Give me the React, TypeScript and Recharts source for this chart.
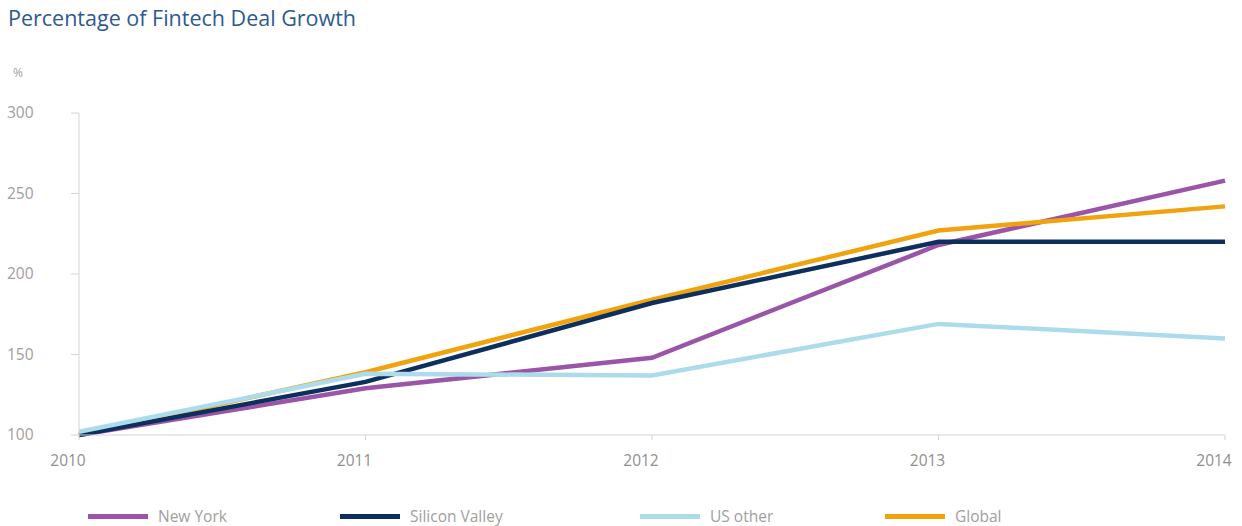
import React from 'react';
import { LineChart, Line, XAxis, YAxis } from 'recharts';

const years = ['2010', '2011', '2012', '2013', '2014'];
const newYork = [100, 129, 148, 218, 258];
const siliconValley = [100, 133, 182, 220, 220];
const usOther = [102, 138, 137, 169, 160];
const global = [100, 139, 184, 227, 242];
const yTicks = [100, 150, 200, 250, 300];

const data = years.map((year, i) => ({
  year,
  newYork: newYork[i],
  siliconValley: siliconValley[i],
  usOther: usOther[i],
  global: global[i],
}));

const series = [
  { key: 'newYork', name: 'New York', color: '#9b55a8' },
  { key: 'global', name: 'Global', color: '#f0a30c' },
  { key: 'siliconValley', name: 'Silicon Valley', color: '#0c2f5e' },
  { key: 'usOther', name: 'US other', color: '#acdbec' },
];
const legendOrder = ['newYork', 'siliconValley', 'usOther', 'global'];
const legendX = [88, 340, 640, 885];

const font = '"Open Sans", "Noto Sans", sans-serif';

const YTick = (props: any) => {
  const { y, payload } = props;
  return (
    <text x={7} y={y} dy={5} textAnchor="start" fill="#a0a0a0" fontSize={15.5} fontFamily={font}>
      {payload.value}
    </text>
  );
};

const XTick = (props: any) => {
  const { x, y, payload } = props;
  return (
    <text x={x - 11} y={y} dy={24} textAnchor="middle" fill="#8f8f8f" fontSize={15.5} fontFamily={font}>
      {payload.value}
    </text>
  );
};

export default function App() {
  return (
    <div style={{ position: 'absolute', left: 0, top: 0, width: 1242, height: 526, background: '#fff', fontFamily: font }}>
      <div style={{ position: 'absolute', left: 8, top: 3, fontSize: 21.5, color: '#2d5a8e' }}>
        Percentage of Fintech Deal Growth
      </div>
      <div style={{ position: 'absolute', left: 13, top: 64, fontSize: 12, color: '#a0a0a0' }}>%</div>
      <LineChart width={1242} height={526} data={data} margin={{ top: 113, right: 17, left: 0, bottom: 61 }}>
        <XAxis
          dataKey="year"
          stroke="#d4d4d4"
          tickSize={5}
          tick={<XTick />}
          height={30}
          interval={0}
        />
        <YAxis
          domain={[100, 300]}
          ticks={yTicks}
          width={79}
          stroke="#d4d4d4"
          tickSize={8}
          tick={<YTick />}
        />
        {series.map((s) => (
          <Line
            key={s.key}
            type="linear"
            dataKey={s.key}
            name={s.name}
            stroke={s.color}
            strokeWidth={4.5}
            dot={false}
            activeDot={false}
            isAnimationActive={false}
          />
        ))}
      </LineChart>
      {legendOrder.map((k, i) => {
        const s = series.find((x) => x.key === k)!;
        return (
          <div key={k} style={{ position: 'absolute', left: legendX[i], top: 505, display: 'flex', alignItems: 'center' }}>
            <div style={{ width: 60, height: 5, background: s.color }} />
            <span style={{ marginLeft: 10, fontSize: 15.5, color: '#a0a0a0' }}>{s.name}</span>
          </div>
        );
      })}
    </div>
  );
}
